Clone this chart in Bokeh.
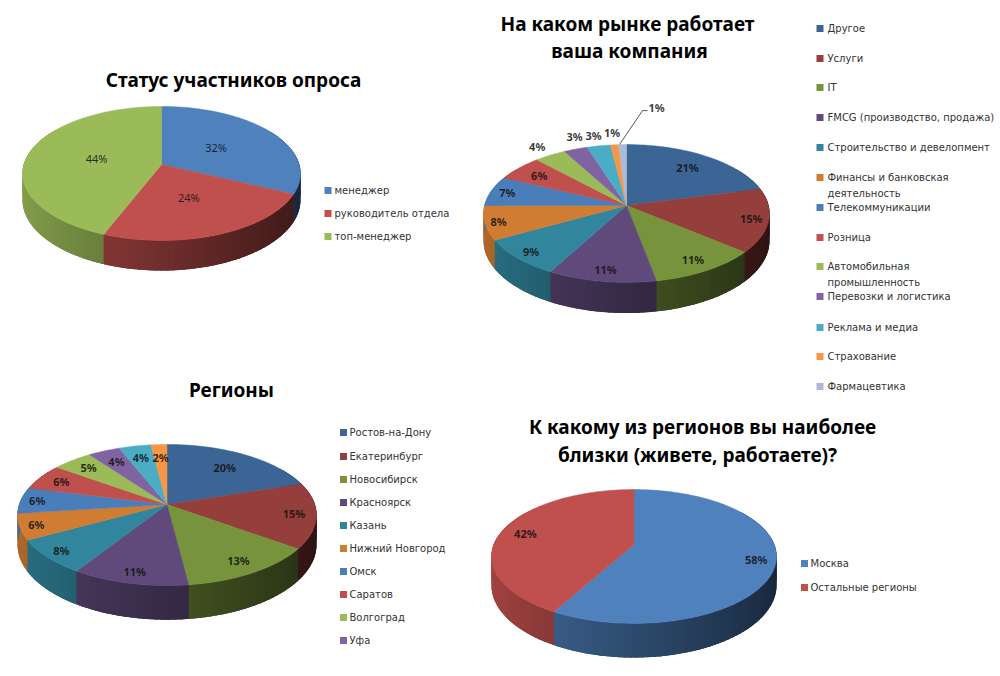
import math
from bokeh.plotting import figure
from bokeh.models import Range1d, ColumnDataSource
from bokeh.core.properties import value
from bokeh.embed import file_html
from bokeh.resources import INLINE

# ---------- data ----------
status_labels = ["менеджер", "руководитель отдела", "топ-менеджер"]
status_values = [32, 24, 44]

market_labels = ["Другое", "Услуги", "IT", "FMCG (производство, продажа)", "Строительство и девелопмент",
                 "Финансы и банковская\nдеятельность", "Телекоммуникации", "Розница",
                 "Автомобильная\nпромышленность", "Перевозки и логистика", "Реклама и медиа",
                 "Страхование", "Фармацевтика"]
market_values = [21, 15, 11, 11, 9, 8, 7, 6, 4, 3, 3, 1, 1]

region_labels = ["Ростов-на-Дону", "Екатеринбург", "Новосибирск", "Красноярск", "Казань",
                 "Нижний Новгород", "Омск", "Саратов", "Волгоград", "Уфа"]
region_values = [20, 15, 13, 11, 8, 6, 6, 6, 5, 4, 4, 2]

closest_labels = ["Москва", "Остальные регионы"]
closest_values = [58, 42]

# ---------- styles and layout ----------
light = ["#4F81BD", "#C0504D", "#9BBB59"]
many = ["#3B6594", "#953F3C", "#77933C", "#604A7B", "#31859C", "#D07C32", "#4A7EBB",
        "#C0504D", "#9BBB59", "#8064A2", "#4BACC6", "#F79646", "#AABAD7"]
TITLE_FONT = "Noto Sans"
TEXT_FONT = "DejaVu Sans"

charts = [
    dict(vals=status_values, colors=light, cx=161, ay=164, A=137.7, B=65.8, k=0.134, D=26,
         r=[0.47, 0.54, 0.48], bold=False),
    dict(vals=market_values, colors=many, cx=626, ay=205, A=142, B=68, k=0.116, D=27,
         r=[0.70, 0.90, 0.92, 0.95, 0.95, 0.93, 0.86, 0.76, 1.07, (0.92, 1.1), 1.06, 1.08, None], bold=True),
    dict(vals=region_values, colors=many, cx=166.5, ay=504, A=147.8, B=69, k=0.149, D=29,
         r=[0.665, 0.87, 0.95, 1.0, 0.98, 0.93, 0.88, 0.79, 0.75, 0.71, 0.71, 0.68], bold=True),
    dict(vals=closest_values, colors=light, cx=633.5, ay=544, A=140.2, B=64.8, k=0.179, D=28,
         r=[0.90, (0.80, 0.68)], bold=True),
]


def shade(col, f):
    r, g, b = int(col[1:3], 16), int(col[3:5], 16), int(col[5:7], 16)
    return "#%02x%02x%02x" % (int(r * f), int(g * f), int(b * f))


p = figure(width=1000, height=676, x_range=Range1d(0, 1000), y_range=Range1d(676, 0),
           output_backend="svg", toolbar_location=None, min_border=0)
p.axis.visible = False
p.xgrid.visible = False
p.ygrid.visible = False
p.outline_line_color = None
p.background_fill_color = "white"
p.border_fill_color = "white"


def rim(c, th):
    u, v = math.sin(th), -math.cos(th)
    s = 1 / (1 - c["k"] * v)
    return c["cx"] + c["A"] * u * s, c["ay"] + c["B"] * v * s, s, u, v


for c in charts:
    total = sum(c["vals"])
    sx, sy, sc = [], [], []
    tx, ty, tc = [], [], []
    lx, ly, lt = [], [], []
    acc = 0
    step = math.radians(2)
    for i, val in enumerate(c["vals"]):
        t0 = acc / total * 2 * math.pi
        t1 = (acc + val) / total * 2 * math.pi
        n = max(2, int((t1 - t0) / step))
        angles = [t0 + (t1 - t0) * j / n for j in range(n + 1)]
        col = c["colors"][i]
        for a0, a1 in zip(angles[:-1], angles[1:]):
            a2 = min(a1 + step * 1.5, 2 * math.pi)
            q = [rim(c, a0), rim(c, a1), rim(c, (a1 + a2) / 2), rim(c, a2)]
            if max(w[4] for w in q) < -0.5:
                continue
            f = 0.58 - 0.27 * (q[0][3] + q[1][3]) / 2
            sx.append([w[0] for w in q] + [w[0] for w in reversed(q)])
            sy.append([w[1] for w in q] + [w[1] + c["D"] * w[2] for w in reversed(q)])
            sc.append(shade(col, f))
        pts = [rim(c, a) for a in angles]
        tx.append([c["cx"]] + [w[0] for w in pts])
        ty.append([c["ay"]] + [w[1] for w in pts])
        tc.append(col)
        mid = (t0 + t1) / 2
        rs = c["r"][i]
        if rs is not None:
            ru, rv = rs if isinstance(rs, tuple) else (rs, rs)
            lx.append(c["cx"] + c["A"] * math.sin(mid) * ru)
            ly.append(c["ay"] - c["B"] * math.cos(mid) * rv)
            lt.append(f"{val}%")
        else:
            ax, ay_, _, _, _ = rim(c, mid)
            ax -= 3
            p.line([ax, ax + 23, ax + 28], [ay_, ay_ - 34, ay_ - 34], line_color="#555555", line_width=1)
            lx.append(ax + 37)
            ly.append(ay_ - 37)
            lt.append(f"{val}%")
        acc += val
    p.patches(xs="x", ys="y", fill_color="c", line_color=None,
              source=ColumnDataSource(dict(x=sx, y=sy, c=sc)))
    p.patches(xs="x", ys="y", fill_color="c", line_color="c", line_width=0.5,
              source=ColumnDataSource(dict(x=tx, y=ty, c=tc)))
    p.text(x=lx, y=ly, text=lt, text_align="center", text_baseline="middle",
           text_font=value(TITLE_FONT), text_font_size="11px",
           text_font_style="bold" if c["bold"] else "normal",
           text_color="#111111", text_alpha=0.85)

titles = [("Статус участников опроса", 233, 79.5), ("На каком рынке работает", 627, 23), ("ваша компания", 629, 50),
          ("Регионы", 231, 389), ("К какому из регионов вы наиболее", 702, 426),
          ("близки (живете, работаете)?", 697, 454)]
p.text(x=[t[1] for t in titles], y=[t[2] for t in titles], text=[t[0] for t in titles],
       text_align="center", text_baseline="middle", text_font=value(TITLE_FONT),
       text_font_size="19px", text_font_style="bold", text_color="#000000")

legends = [
    (status_labels, light, 324, 334, [190, 213, 236]),
    (market_labels, many, 816, 827, [28, 58, 87, 117, 147, 177, 207, 237, 266, 296, 327, 356, 386]),
    (region_labels, many, 339.5, 349, [432, 456, 479, 502, 525, 548, 571, 594, 617, 640]),
    (closest_labels, light, 800.5, 810, [563, 587]),
]
for labels, cols, x0, xt, ys in legends:
    p.rect(x=[x0 + 3.5] * len(labels), y=ys, width=7, height=7, fill_color=cols[:len(labels)], line_color=None)
    tx_, ty_, tt_ = [], [], []
    for lab, y in zip(labels, ys):
        for j, part in enumerate(lab.split("\n")):
            tx_.append(xt)
            ty_.append(y + j * 16)
            tt_.append(part)
    p.text(x=tx_, y=ty_, text=tt_, text_align="left", text_baseline="middle",
           text_font=value(TEXT_FONT), text_font_size="10px", text_color="#333333")

open("out.html", "w").write(file_html(p, INLINE))
